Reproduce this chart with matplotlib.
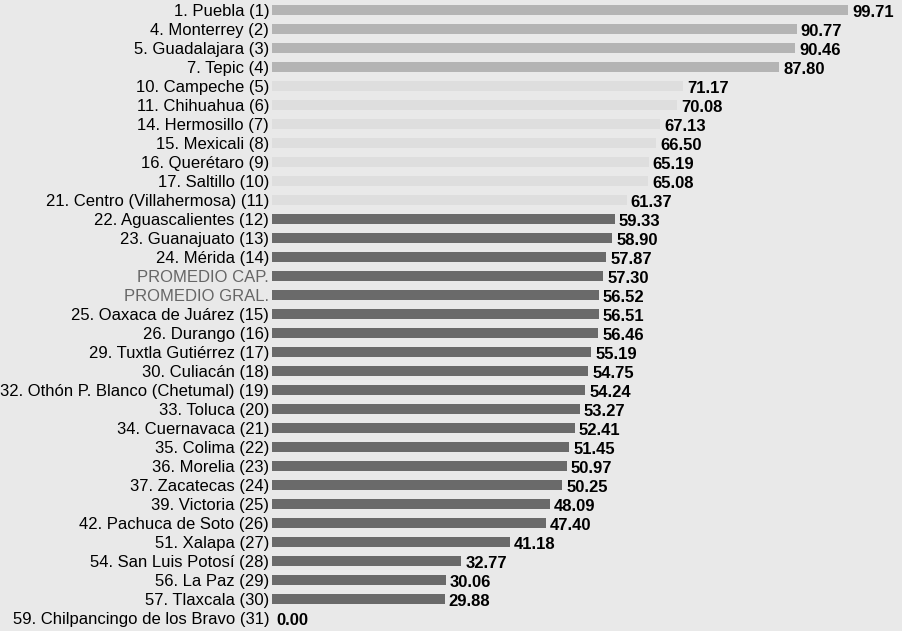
import matplotlib
matplotlib.use("Agg")
import matplotlib.pyplot as plt

# Datos
etiquetas = [
    "1. Puebla (1)", "4. Monterrey (2)", "5. Guadalajara (3)", "7. Tepic (4)",
    "10. Campeche (5)", "11. Chihuahua (6)", "14. Hermosillo (7)", "15. Mexicali (8)",
    "16. Querétaro (9)", "17. Saltillo (10)", "21. Centro (Villahermosa) (11)",
    "22. Aguascalientes (12)", "23. Guanajuato (13)", "24. Mérida (14)",
    "PROMEDIO CAP.", "PROMEDIO GRAL.",
    "25. Oaxaca de Juárez (15)", "26. Durango (16)", "29. Tuxtla Gutiérrez (17)",
    "30. Culiacán (18)", "32. Othón P. Blanco (Chetumal) (19)", "33. Toluca (20)",
    "34. Cuernavaca (21)", "35. Colima (22)", "36. Morelia (23)", "37. Zacatecas (24)",
    "39. Victoria (25)", "42. Pachuca de Soto (26)", "51. Xalapa (27)",
    "54. San Luis Potosí (28)", "56. La Paz (29)", "57. Tlaxcala (30)",
    "59. Chilpancingo de los Bravo (31)",
]
valores = [
    99.71, 90.77, 90.46, 87.80, 71.17, 70.08, 67.13, 66.50, 65.19, 65.08, 61.37,
    59.33, 58.90, 57.87, 57.30, 56.52, 56.51, 56.46, 55.19, 54.75, 54.24, 53.27,
    52.41, 51.45, 50.97, 50.25, 48.09, 47.40, 41.18, 32.77, 30.06, 29.88, 0.00,
]
grupo = ["alto"] * 4 + ["medio"] * 7 + ["bajo"] * 22

colores = {"alto": "#b4b4b4", "medio": "#dedede", "bajo": "#6a6a6a"}
fondo = "#e9e9e9"

plt.rcParams["font.family"] = ["Liberation Sans Narrow", "Liberation Sans", "DejaVu Sans"]

fig = plt.figure(figsize=(9.02, 6.31), dpi=100, facecolor=fondo)
ax = fig.add_axes([272 / 902, 0, 630 / 902, 1])
ax.set_facecolor(fondo)

n = len(valores)
y = list(range(n))
ax.barh(y, valores, height=0.55, color=[colores[g] for g in grupo], linewidth=0)

for i, v in enumerate(valores):
    ax.text(v + 0.7, i + 0.15, f"{v:.2f}", va="center", ha="left",
            fontsize=12, fontweight="bold", color="black",
            family=["Liberation Sans", "DejaVu Sans"])

ax.set_xlim(0, 109)
ax.set_ylim(32.68, -0.526)
ax.set_yticks(y)
ax.set_yticklabels(etiquetas, fontsize=12)
for lbl, g in zip(ax.get_yticklabels(), etiquetas):
    if g.startswith("PROMEDIO"):
        lbl.set_color("#666666")
ax.tick_params(axis="y", length=0, pad=2)
ax.set_xticks([])
for s in ax.spines.values():
    s.set_visible(False)

fig.savefig("out.png", dpi=100, facecolor=fondo)
